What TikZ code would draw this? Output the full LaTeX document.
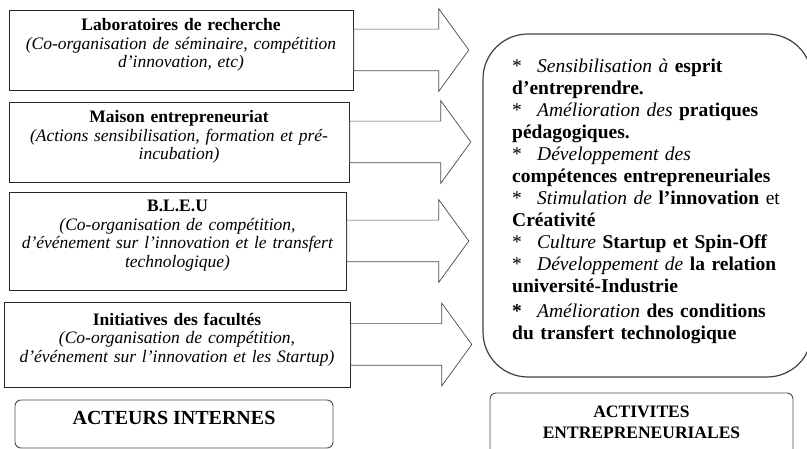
\documentclass[tikz,border=0pt]{standalone}
\usepackage{fontspec}
\setmainfont{Liberation Serif}
\usetikzlibrary{shapes.arrows,positioning}

\newcommand{\puce}{\makebox[25pt][l]{*}}
\newcommand{\fond}{\rule[-14pt]{0pt}{0pt}}

\begin{document}
\begin{tikzpicture}[x=1pt,y=-1pt]
    \tikzstyle{acteur}=[rectangle,draw=black!85,fill=white,line width=0.9pt,align=center,text width=330pt,inner sep=0pt,font=\fontsize{17.5}{18.5}\selectfont]
    \tikzstyle{block arrow}=[single arrow,draw=black!70,fill=white,line width=0.7pt,inner xsep=0pt,inner ysep=20.5pt,single arrow head extend=20.5pt,single arrow tip angle=108,anchor=tail]
    \tikzstyle{titre}=[rectangle,rounded corners=6pt,draw=black!70,line width=0.9pt,align=center,font=\bfseries\fontsize{17.5}{21}\selectfont]
    \useasboundingbox (0,0) rectangle (807,449);

    % Draw the internal actors
    \node[acteur, minimum width=344pt, minimum height=80pt] (labo) at (181,50)
      {\textbf{Laboratoires de recherche}\\ \textit{(Co-organisation de séminaire, compétition}\\ \textit{d'innovation, etc)}\fond};
    \node[acteur, minimum width=340pt, minimum height=80pt] (maison) at (179,142)
      {\textbf{Maison entrepreneuriat}\\ \textit{(Actions sensibilisation, formation et pré-}\\ \textit{incubation)}\fond};
    \node[acteur, minimum width=337pt, minimum height=98pt] (bleu) at (177.5,241)
      {\textbf{B.L.E.U}\\ \textit{(Co-organisation de compétition,}\\ \textit{d'événement sur l'innovation et le transfert}\\ \textit{technologique)}\fond};
    \node[acteur, minimum width=346pt, minimum height=85pt] (facultes) at (177,344.5)
      {\textbf{Initiatives des facultés}\\ \textit{(Co-organisation de compétition,}\\ \textit{d'événement sur l'innovation et les Startup)}\fond};

    % Block arrows towards the activities
    \node[block arrow, minimum height=115pt] (f-labo) at (labo.east) {};
    \node[block arrow, minimum height=121pt] (f-maison) at (maison.east) {};
    \node[block arrow, minimum height=122pt] (f-bleu) at (bleu.east) {};
    \node[block arrow, minimum height=121pt] (f-facultes) at (facultes.east) {};

    % The activities
    \node[draw=black!75, line width=1.2pt, rounded corners=45pt, minimum width=329pt, minimum height=343pt] (effets) at (647.5,205.5) {};
    \node[anchor=base west, inner sep=0pt, text width=290pt, align=left, font=\fontsize{19.5}{22}\selectfont] (liste) at (512,73)
      {\puce\textit{Sensibilisation à} \textbf{esprit}\\
       \textbf{d'entreprendre.}\\
       \puce\textit{Amélioration des} \textbf{pratiques}\\
       \textbf{pédagogiques.}\\
       \puce\textit{Développement des}\\
       \textbf{compétences entrepreneuriales}\\
       \puce\textit{Stimulation de} \textbf{l'innovation} et\\
       \textbf{Créativité}\\
       \puce\textit{Culture} \textbf{Startup et Spin-Off}\\
       \puce\textit{Développement de} \textbf{la relation}\\
       \textbf{université-Industrie}\\[3pt]
       \makebox[25pt][l]{\textbf{*}}\textit{Amélioration} \textbf{des conditions}\\
       \textbf{du transfert technologique}};

    % Annotate the columns
    \node[titre, minimum width=318pt, minimum height=48pt, text depth=12pt, font=\bfseries\fontsize{20}{21}\selectfont] (internes) at (174,424) {ACTEURS INTERNES};
    \node[titre, minimum width=303pt, minimum height=77pt, text depth=18.5pt] (activites) at (641.5,431.5) {ACTIVITES\\ENTREPRENEURIALES};
\end{tikzpicture}
\end{document}
